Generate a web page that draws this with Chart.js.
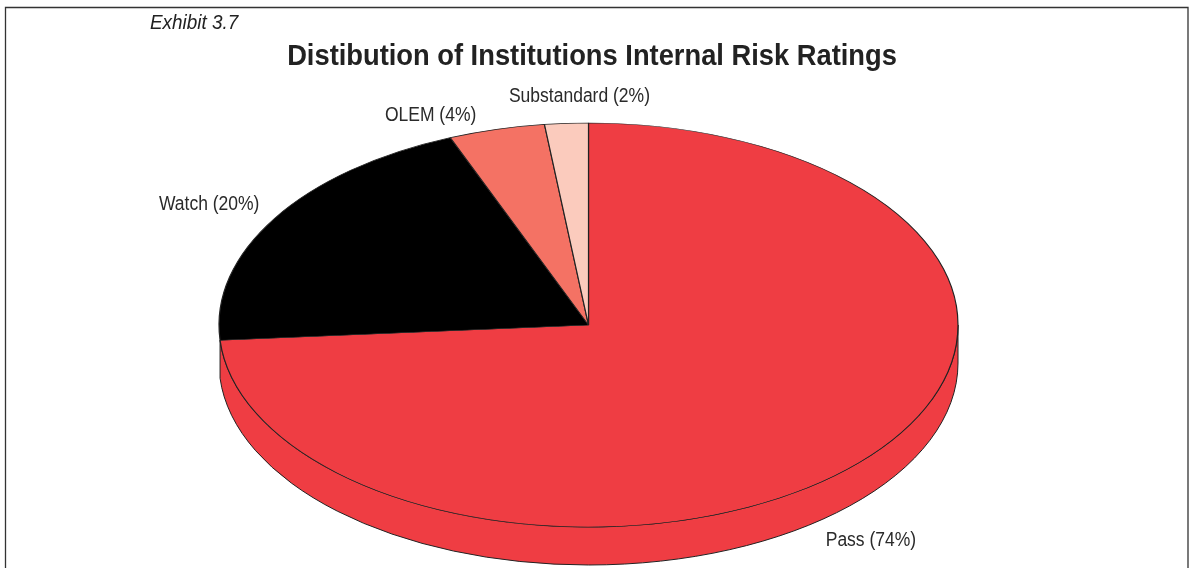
<!DOCTYPE html>
<html>
<head>
<meta charset="utf-8">
<style>html,body{margin:0;padding:0;background:#fff;overflow:hidden}canvas{display:block}</style>
<script src="https://cdn.jsdelivr.net/npm/chart.js@4"></script>
</head>
<body>
<canvas id="c" width="1190" height="568"></canvas>
<script>
const categories = ['Pass', 'Watch', 'OLEM', 'Substandard'];
const sliceValues = [73.8, 20.1, 4.2, 1.9];
const printedPercents = [74, 20, 4, 2];
const sliceColors = ['#EF3D43', '#000000', '#F47264', '#FBCBBD'];
const chartTitle = 'Distibution of Institutions Internal Risk Ratings';
const exhibitLabel = 'Exhibit 3.7';
const labelNudges = [[11.5, 78], [-65.5, -14], [-66, -13.5], [13, -27]];

const FONT = '"Liberation Sans",sans-serif';
const centerX = 588.5, centerY = 325, radiusX = 369.5, radiusY = 202, depth = 38;
const inkColor = '#222222';
const titleCenterX = 592, titleSqueeze = 0.91, labelSqueeze = 0.875;

const tiltPlugin = {
  id: 'tilt',
  beforeDraw(chart) {
    const ctx = chart.ctx;
    ctx.save();
    ctx.strokeStyle = '#333333';
    ctx.lineWidth = 1.3;
    ctx.beginPath();
    ctx.moveTo(5.5, 568);
    ctx.lineTo(5.5, 7.5);
    ctx.lineTo(1188, 7.5);
    ctx.lineTo(1188, 568);
    ctx.stroke();
    ctx.fillStyle = '#222222';
    ctx.font = 'italic 20px ' + FONT;
    ctx.textAlign = 'left';
    ctx.textBaseline = 'middle';
    ctx.translate(150, 23);
    ctx.scale(0.945, 1);
    ctx.fillText(exhibitLabel, 0, 0);
    ctx.restore();
    // Horizontal squeeze for the library-drawn title, released before the datasets draw.
    ctx.save();
    ctx.translate(titleCenterX, 0);
    ctx.scale(titleSqueeze, 1);
    ctx.translate(-titleCenterX, 0);
  },
  beforeDatasetsDraw(chart) {
    const ctx = chart.ctx;
    ctx.restore();
    const arcs = chart.getDatasetMeta(0).data;
    arcs.forEach((arc, i) => {
      const a = Math.max(arc.startAngle, 0);
      const b = Math.min(arc.endAngle, Math.PI);
      if (b - a < 0.1) return;
      ctx.save();
      ctx.beginPath();
      ctx.ellipse(centerX, centerY + depth, radiusX, radiusY, 0, a, b);
      ctx.ellipse(centerX, centerY, radiusX, radiusY, 0, b, a, true);
      ctx.closePath();
      ctx.fillStyle = sliceColors[i];
      ctx.fill();
      ctx.strokeStyle = inkColor;
      ctx.lineWidth = 1;
      ctx.stroke();
      ctx.restore();
    });
    const first = arcs[0];
    ctx.save();
    ctx.translate(centerX, centerY);
    ctx.scale(1, radiusY / radiusX);
    ctx.translate(-first.x, -first.y);
  },
  afterDatasetsDraw(chart) {
    const ctx = chart.ctx;
    ctx.restore();
    ctx.fillStyle = '#2a2a2a';
    ctx.font = '20px ' + FONT;
    ctx.textAlign = 'center';
    ctx.textBaseline = 'middle';
    chart.getDatasetMeta(0).data.forEach((arc, i) => {
      const mid = (arc.startAngle + arc.endAngle) / 2;
      const x = centerX + radiusX * Math.cos(mid) + labelNudges[i][0];
      const y = centerY + radiusY * Math.sin(mid) + labelNudges[i][1];
      ctx.save();
      ctx.translate(x, y);
      ctx.scale(labelSqueeze, 1);
      ctx.fillText(categories[i] + ' (' + printedPercents[i] + '%)', 0, 0);
      ctx.restore();
    });
  }
};

new Chart(document.getElementById('c'), {
  type: 'pie',
  data: {
    labels: categories,
    datasets: [{
      data: sliceValues,
      backgroundColor: sliceColors,
      borderColor: inkColor,
      borderWidth: 1.2,
      clip: false
    }]
  },
  options: {
    responsive: false,
    animation: false,
    radius: radiusX,
    layout: { padding: { left: 0, right: 6, top: 0, bottom: 0 } },
    plugins: {
      legend: { display: false },
      tooltip: { enabled: false },
      title: {
        display: true,
        text: chartTitle,
        color: '#222222',
        font: { family: FONT, size: 30, weight: 'bold' },
        padding: { top: 39, bottom: 10 }
      }
    }
  },
  plugins: [tiltPlugin]
});
</script>
</body>
</html>
